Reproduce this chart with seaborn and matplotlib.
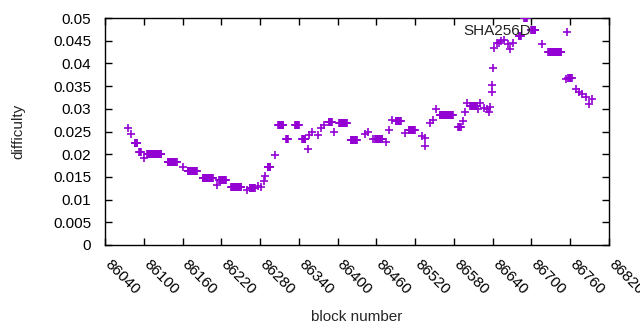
import numpy as np
import pandas as pd
import matplotlib
matplotlib.use("Agg")
import matplotlib.pyplot as plt
import matplotlib.transforms as mtransforms
import seaborn as sns
from matplotlib.ticker import FuncFormatter, MultipleLocator

# Difficulty plateaus: (first block, last block, difficulty)
run_start = [86075, 86080, 86086, 86093, 86100, 86105, 86137, 86161, 86168, 86191,
             86213, 86217, 86235, 86259, 86264, 86277, 86281, 86286, 86288, 86292,
             86303, 86308, 86320, 86334, 86345, 86354, 86356, 86361, 86369, 86375,
             86379, 86386, 86395, 86402, 86420, 86442, 86447, 86454, 86458, 86475,
             86480, 86484, 86490, 86504, 86510, 86530, 86535, 86536, 86543, 86548,
             86552, 86558, 86587, 86594, 86597, 86601, 86605, 86617, 86620, 86626,
             86631, 86635, 86636, 86639, 86639, 86641, 86642, 86646, 86650, 86653,
             86658, 86663, 86667, 86672, 86680, 86689, 86700, 86716, 86726, 86755,
             86753, 86757, 86769, 86773, 86778, 86784, 86789, 86793]
run_end = [86075, 86080, 86090, 86095, 86100, 86127, 86151, 86161, 86182, 86207,
           86213, 86227, 86251, 86259, 86272, 86277, 86281, 86286, 86288, 86296,
           86303, 86316, 86323, 86340, 86350, 86354, 86356, 86361, 86369, 86375,
           86379, 86391, 86395, 86414, 86430, 86442, 86447, 86454, 86469, 86475,
           86480, 86484, 86498, 86504, 86519, 86530, 86535, 86536, 86543, 86548,
           86552, 86578, 86591, 86594, 86597, 86601, 86616, 86617, 86620, 86626,
           86631, 86635, 86636, 86639, 86639, 86641, 86642, 86646, 86650, 86653,
           86658, 86663, 86667, 86672, 86684, 86693, 86706, 86716, 86746, 86755,
           86753, 86762, 86769, 86773, 86778, 86784, 86789, 86793]
run_level = [0.0258, 0.0245, 0.0225, 0.0205, 0.0192, 0.0201, 0.0182, 0.0171, 0.0164, 0.0148,
             0.0133, 0.0144, 0.0127, 0.0122, 0.0126, 0.0131, 0.0127, 0.0142, 0.0153, 0.0171,
             0.0199, 0.0265, 0.0233, 0.0264, 0.0234, 0.0212, 0.0243, 0.0250, 0.0243, 0.0257,
             0.0265, 0.0271, 0.0249, 0.0268, 0.0232, 0.0244, 0.0249, 0.0234, 0.0234, 0.0226,
             0.0254, 0.0275, 0.0273, 0.0247, 0.0254, 0.0240, 0.0236, 0.0217, 0.0268, 0.0276,
             0.0299, 0.0286, 0.0260, 0.0273, 0.0293, 0.0312, 0.0306, 0.0299, 0.0312, 0.0301,
             0.0299, 0.0293, 0.0304, 0.0337, 0.0352, 0.0389, 0.0435, 0.0444, 0.0446, 0.0450,
             0.0452, 0.0442, 0.0431, 0.0446, 0.0461, 0.0499, 0.0473, 0.0442, 0.0426, 0.0470,
             0.0365, 0.0368, 0.0343, 0.0338, 0.0332, 0.0326, 0.0310, 0.0321]

series_name = "SHA256D"
x_label = "block number"
y_label = "difficulty"
x_ticks = list(range(86040, 86821, 60))

xs, ys = [], []
for a, b, v in zip(run_start, run_end, run_level):
    blocks = list(range(a, b + 1))
    xs.extend(blocks)
    ys.extend([v] * len(blocks))
df = pd.DataFrame({"block": xs, "difficulty": ys})

sns.set_theme(style="white")
plt.rcParams["font.family"] = ["Liberation Sans", "DejaVu Sans"]

fig = plt.figure(figsize=(6.4, 3.3), dpi=100)
ax = fig.add_axes([105 / 640, 1 - 245 / 330, 504 / 640, 227 / 330])

color = "#9400D3"
sns.scatterplot(data=df, x="block", y="difficulty", ax=ax, marker="+",
                color=color, s=36, linewidth=1.2, legend=False, zorder=3)

ax.set_xlim(86040, 86820)
ax.set_ylim(0, 0.05)
ax.set_xticks(x_ticks)
ax.yaxis.set_major_locator(MultipleLocator(0.005))
ax.yaxis.set_major_formatter(FuncFormatter(lambda v, p: "%g" % round(v, 4)))

for sp in ax.spines.values():
    sp.set_color("black")
    sp.set_linewidth(1.0)

ax.tick_params(axis="both", which="major", direction="in", length=5, width=1,
               color="black", labelsize=11, labelcolor="black",
               top=True, right=True, bottom=True, left=True)
ax.tick_params(axis="y", pad=10)
ax.tick_params(axis="x", pad=9)
shift = mtransforms.ScaledTranslation(7 / 100, 0, fig.dpi_scale_trans)
for lab in ax.get_xticklabels():
    lab.set_rotation(-45)
    lab.set_ha("left")
    lab.set_va("top")
    lab.set_rotation_mode("anchor")
    lab.set_transform(lab.get_transform() + shift)

ax.set_xlabel(x_label, fontsize=11, labelpad=9)
ax.set_ylabel(y_label, fontsize=11, labelpad=20)
ax.text(86699, 0.0471, series_name, ha="right", va="center", fontsize=11, color="#222222")

fig.savefig("out.png", dpi=100)
